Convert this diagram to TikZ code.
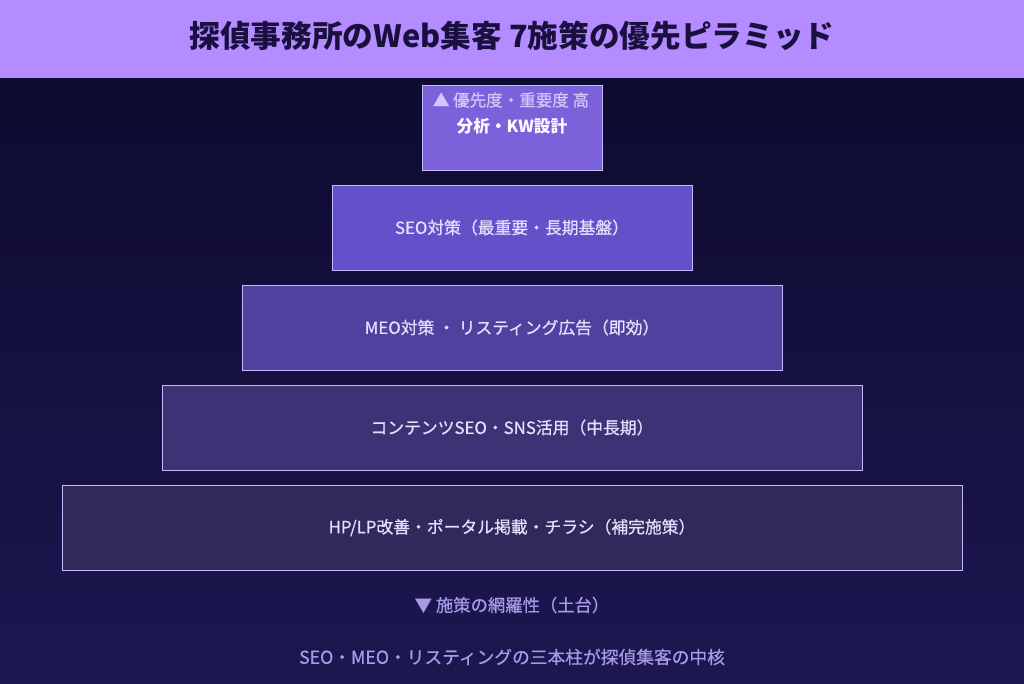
\documentclass[tikz,border=0pt]{standalone}
\usepackage{fontspec}
\setmainfont{Noto Sans CJK JP}
\newfontfamily\medfont[FakeBold=0.7]{Noto Sans CJK JP}
\usetikzlibrary{positioning}
\definecolor{headbg}{HTML}{B48CFF}
\definecolor{headtxt}{HTML}{1A1040}
\definecolor{bgtop}{HTML}{0E0B30}
\definecolor{bgbot}{HTML}{1C1750}
\definecolor{tierA}{HTML}{7C62DA}
\definecolor{tierB}{HTML}{6450C8}
\definecolor{tierC}{HTML}{51409E}
\definecolor{tierD}{HTML}{3D3275}
\definecolor{tierE}{HTML}{33285A}
\definecolor{tierline}{HTML}{C8B8FF}
\definecolor{tiertxt}{HTML}{E6DEFF}
\definecolor{notetxt}{HTML}{A898E8}
\tikzset{
 tier/.style={draw=tierline, line width=0.6pt, minimum height=85*0.75pt, inner sep=0pt, text=tiertxt, font=\medfont\fontsize{12.6}{15}\selectfont},
 note/.style={text=notetxt, inner sep=1pt, font=\medfont\fontsize{13}{15}\selectfont}
}

\begin{document}
\begin{tikzpicture}[x=0.75pt,y=-0.75pt]
\useasboundingbox (0,0) rectangle (1024,683);
\shade[top color=bgtop, bottom color=bgbot] (0,78) rectangle (1024,683);
\fill[headbg] (0,0) rectangle (1024,78);
\node[text=headtxt, font=\fontsize{23}{28}\selectfont\bfseries] (title) at (512,36) {探偵事務所のWeb集客 7施策の優先ピラミッド};
% top tier
\node[tier, fill=tierA, minimum width=180*0.75pt] (tier1) at (512,127.5) {};
\node[text=tierline!80!white, inner sep=1pt, font=\medfont\fontsize{12.4}{14}\selectfont] (prio) at (511,100) {▲ 優先度・重要度 高};
\node[text=white!95!tierline, inner sep=1pt, font=\fontsize{12.5}{15}\selectfont\bfseries] (tier1txt) at (512,126) {分析・KW設計};
\foreach \i/\w/\c/\t in {2/360/tierB/{SEO対策（最重要・長期基盤）},
 3/540/tierC/{MEO対策 ・ リスティング広告（即効）},
 4/700/tierD/{コンテンツSEO・SNS活用（中長期）},
 5/900/tierE/{HP/LP改善・ポータル掲載・チラシ（補完施策）}} {
 \node[tier, fill=\c, minimum width=\w*0.75pt] (tier\i) at (512,27.5+100*\i) {\t};
}
\node[note] (base) at (512,605) {▼ 施策の網羅性（土台）};
\node[note, font=\medfont\fontsize{13.3}{16}\selectfont] (core) at (512,657) {SEO・MEO・リスティングの三本柱が探偵集客の中核};
\end{tikzpicture}
\end{document}
